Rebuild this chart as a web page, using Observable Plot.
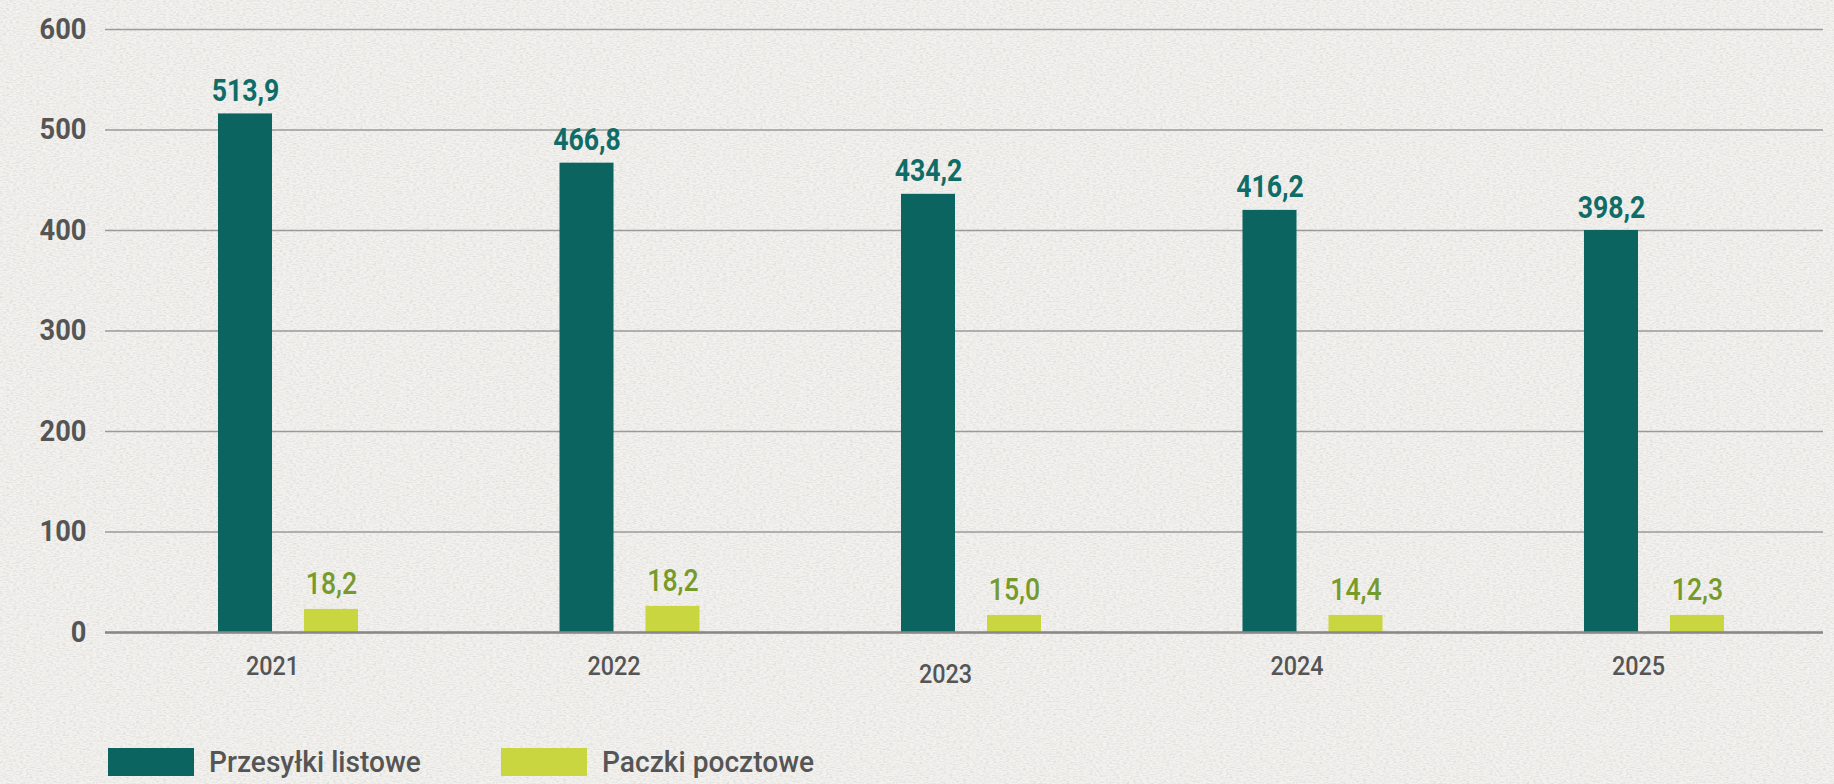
<!DOCTYPE html>
<html>
<head>
<meta charset="utf-8">
<script src="https://cdn.jsdelivr.net/npm/d3@7"></script>
<script src="https://cdn.jsdelivr.net/npm/@observablehq/plot@0.6"></script>
<style>
  html, body { margin: 0; padding: 0; }
  body {
    width: 1834px; height: 784px; overflow: hidden;
    background-color: #f3f2ef;
    background-image: url("data:image/svg+xml;utf8,<svg xmlns='http://www.w3.org/2000/svg' width='400' height='400'><filter id='n'><feTurbulence type='fractalNoise' baseFrequency='0.3 0.85' numOctaves='3' seed='4'/><feColorMatrix values='0 0 0 0 0.55  0 0 0 0 0.54  0 0 0 0 0.52  1.5 0 0 0 -0.58'/></filter><rect width='100%' height='100%' filter='url(%23n)' opacity='0.6'/></svg>");
    font-family: Roboto, "Noto Sans", sans-serif;
  }
  #legend { position: relative; height: 79px; }
  .item { position: absolute; top: 43px; display: flex; align-items: center; height: 28px; }
  .sw { width: 86px; height: 28px; }
  .lab { margin-left: 15px; font-size: 29px; font-weight: 500; color: #555; white-space: nowrap; line-height: 28px; transform: scaleX(0.97); transform-origin: 0 50%; }
</style>
</head>
<body>
<div id="chart"></div>
<div id="legend"></div>
<script>
const years = ["2021", "2022", "2023", "2024", "2025"];
const series = ["Przesyłki listowe", "Paczki pocztowe"];
// bar heights as drawn in the picture
const listoweHeights = [516, 467, 436, 420, 400];
const paczkiHeights = [23, 26, 17, 17, 17];
// printed value labels
const listoweLabels = [513.9, 466.8, 434.2, 416.2, 398.2];
const paczkiLabels = [18.2, 18.2, 15.0, 14.4, 12.3];
const yTicks = [0, 100, 200, 300, 400, 500, 600];
const colors = ["#0c6461", "#c9d63f"];
const labelColors = ["#0f6c67", "#769a2b"];

const fmt = v => v.toFixed(1).replace(".", ",");
const rowsL = years.map((y, i) => ({year: y, series: series[0], value: listoweHeights[i], label: fmt(listoweLabels[i])}));
const rowsP = years.map((y, i) => ({year: y, series: series[1], value: paczkiHeights[i], label: fmt(paczkiLabels[i])}));

const chart = Plot.plot({
  width: 1834,
  height: 705,
  marginLeft: 105,
  marginRight: 11,
  marginTop: 29,
  marginBottom: 73,
  style: {background: "transparent", fontFamily: "Roboto, 'Noto Sans', sans-serif", overflow: "visible"},
  x: {type: "band", domain: years, paddingInner: 0.59, paddingOuter: 0.3104, align: 0.533, round: false, label: null},
  y: {domain: [0, 600], label: null},
  marks: [
    Plot.gridY(yTicks, {stroke: "#9a9a9a", strokeOpacity: 1, strokeWidth: 1.7}),
    Plot.axisY(yTicks, {tickSize: 0, tickPadding: 19, fontSize: 29, fontWeight: 700, color: "#555", label: null}),
    Plot.axisX(years.filter(y => y !== "2023"), {tickSize: 0, tickPadding: 24, fontSize: 26, fontWeight: 500, color: "#555", dx: -16, label: null}),
    Plot.axisX(years.filter(y => y === "2023"), {tickSize: 0, tickPadding: 32, fontSize: 26, fontWeight: 500, color: "#555", dx: -26, label: null}),
    Plot.barY(rowsL, {x: "year", y: "value", fill: colors[0], insetRight: 86}),
    Plot.barY(rowsP, {x: "year", y: "value", fill: colors[1], insetLeft: 86}),
    Plot.ruleY([0], {stroke: "#888", strokeWidth: 2.5}),
    Plot.text(rowsL, {x: "year", y: "value", text: "label", dx: -43, dy: -13, lineAnchor: "bottom", fontSize: 31, fontWeight: 700, fill: labelColors[0]}),
    Plot.text(rowsP, {x: "year", y: "value", text: "label", dx: 43, dy: -15, lineAnchor: "bottom", fontSize: 31, fontWeight: 500, fill: labelColors[1]})
  ]
});
document.getElementById("chart").appendChild(chart);

// narrow the glyphs to resemble a condensed face (scale about each text's own anchor)
d3.select(chart).selectAll("text").each(function () {
  const inY = this.closest("g[aria-label='y-axis tick label']");
  const inX = this.closest("g[aria-label='x-axis tick label']");
  const k = inY ? 0.94 : inX ? 0.9 : 0.86;
  const t = this.getAttribute("transform") || "";
  const x = +(this.getAttribute("x") || 0);
  if (x) {
    this.setAttribute("transform", `${t} translate(${x},0) scale(${k},1) translate(${-x},0)`);
  } else {
    this.setAttribute("transform", `${t} scale(${k},1)`);
  }
});

const legend = document.getElementById("legend");
const legendX = [108, 501];
series.forEach((s, i) => {
  const item = document.createElement("div");
  item.className = "item";
  item.style.left = legendX[i] + "px";
  item.innerHTML = `<div class="sw" style="background:${colors[i]}"></div><div class="lab">${s}</div>`;
  legend.appendChild(item);
});
</script>
</body>
</html>
